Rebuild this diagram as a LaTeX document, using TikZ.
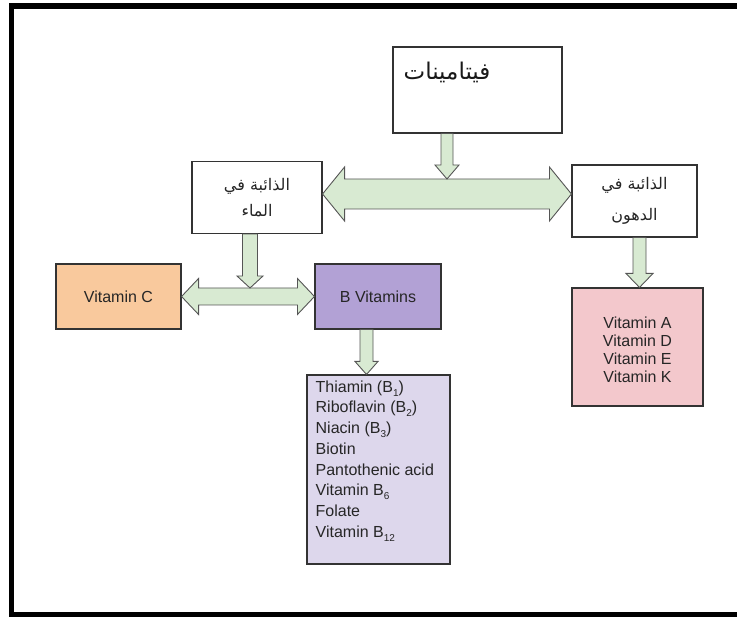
\documentclass[tikz,border=0pt]{standalone}
\usepackage{fontspec}
\setmainfont{Liberation Sans}
\newfontfamily\arabicfont[Script=Arabic]{DejaVu Sans}
\TeXXeTstate=1
\usetikzlibrary{calc}
\definecolor{peach}{HTML}{F9C99D}
\definecolor{bpurple}{HTML}{B2A1D5}
\definecolor{lav}{HTML}{DDD7EC}
\definecolor{pinkbox}{HTML}{F3C8CC}
\definecolor{arrfill}{HTML}{D8EAD2}
\definecolor{arrdraw}{HTML}{555555}
\definecolor{boxdraw}{HTML}{333333}
\newcommand\lowsub[1]{\raisebox{-4pt}{\fontsize{10}{10}\selectfont #1}}
\tikzset{
  box/.style={draw=boxdraw, line width=1.1pt, inner sep=0pt, align=center, text=black!85},
  blockarrow/.style={draw=arrdraw, fill=arrfill, line width=0.9pt, line join=miter},
  latin/.style={font=\fontsize{16}{18}\selectfont},
  arab/.style={font=\arabicfont\fontsize{16}{26}\selectfont},
}
% vertical down block arrow: from, tip, shaft half, head half, head length
\newcommand\downblkarrow[5]{%
  \draw[blockarrow] let \p1=(#1), \p2=(#2) in
    (\x2-#3pt,\y1) -- (\x2-#3pt,\y2+#5pt) -- (\x2-#4pt,\y2+#5pt) -- (\x2,\y2)
    -- (\x2+#4pt,\y2+#5pt) -- (\x2+#3pt,\y2+#5pt) -- (\x2+#3pt,\y1) -- cycle;}
% horizontal double block arrow: left tip, right tip, shaft half, head half, head length
\newcommand\dblblkarrow[5]{%
  \draw[blockarrow] let \p1=(#1), \p2=(#2) in
    (\x1,\y1) -- (\x1+#5pt,\y1+#4pt) -- (\x1+#5pt,\y1+#3pt) -- (\x2-#5pt,\y1+#3pt)
    -- (\x2-#5pt,\y1+#4pt) -- (\x2,\y1) -- (\x2-#5pt,\y1-#4pt) -- (\x2-#5pt,\y1-#3pt)
    -- (\x1+#5pt,\y1-#3pt) -- (\x1+#5pt,\y1-#4pt) -- cycle;}
\begin{document}
\begin{tikzpicture}[x=1pt,y=-1pt]
\useasboundingbox (0,0) rectangle (737,617);
\begin{scope}
\clip (0,0) rectangle (737,617);
\draw[line width=5.5pt] (11.5,6) rectangle (760,614.5);
\end{scope}
% boxes
\node[box, minimum width=169, minimum height=86, fill=white] (top) at (477.5,90) {};
\node[font=\arabicfont\fontsize{23}{26}\selectfont, inner sep=0pt, text=black!90] (toptext) at (447,72) {\beginR فيتامينات\endR};
\node[box, arab, minimum width=130, minimum height=72, fill=white] (water) at (257,197.5)
  {\beginR الذائبة في\endR\\\beginR الماء\endR};
\node[box, arab, minimum width=125, minimum height=72, fill=white, font=\arabicfont\fontsize{16}{31}\selectfont] (fat) at (634.5,201)
  {\beginR الذائبة في\endR\\\beginR الدهون\endR};
\node[box, latin, minimum width=125, minimum height=65, fill=peach] (vitc) at (118.5,296.5) {Vitamin C};
\node[box, latin, minimum width=126, minimum height=65, fill=bpurple] (bvit) at (378,296.5) {B Vitamins};
\node[box, minimum width=143, minimum height=189, fill=lav] (blist) at (378.5,469.5) {};
\node[anchor=north west, align=left, inner sep=0pt, text=black!85, font=\fontsize{16}{20.7}\selectfont] (blisttext) at ($(blist.north west)+(9,6)$)
  {Thiamin (B\lowsub{1})\\Riboflavin (B\lowsub{2})\\Niacin (B\lowsub{3})\\Biotin\\Pantothenic acid\\Vitamin B\lowsub{6}\\Folate\\Vitamin B\lowsub{12}};
\node[box, minimum width=131, minimum height=118, fill=pinkbox, font=\fontsize{16}{18}\selectfont] (fatlist) at (637.5,347)
  {\rule{0pt}{17pt}Vitamin A\\Vitamin D\\Vitamin E\\Vitamin K};
% connectors
\coordinate (d1L) at ($(water.east)+(0,-3.5)$);
\coordinate (d1R) at (fat.west |- d1L);
\coordinate (d1M) at ($(d1L)!0.5!(d1R)$);
\coordinate (a1t) at ($(d1M)+(0,-15)$);
\coordinate (a1s) at (top.south -| a1t);
\dblblkarrow{d1L}{d1R}{15}{27}{22}
\downblkarrow{a1s}{a1t}{6}{12}{14}
\coordinate (d2L) at (vitc.east);
\coordinate (d2R) at (bvit.west);
\coordinate (d2M) at ($(d2L)!0.5!(d2R)$);
\coordinate (a3t) at ($(d2M)+(2,-8.5)$);
\coordinate (a3s) at (water.south -| a3t);
\dblblkarrow{d2L}{d2R}{8.5}{18}{17}
\downblkarrow{a3s}{a3t}{7.5}{13}{12}
\coordinate (a5s) at ($(bvit.south)+(-11.5,0)$);
\coordinate (a5t) at (a5s |- blist.north);
\downblkarrow{a5s}{a5t}{6.5}{11.5}{13}
\coordinate (a6s) at ($(fat.south)+(5,0)$);
\coordinate (a6t) at (a6s |- fatlist.north);
\downblkarrow{a6s}{a6t}{6.5}{13.5}{14}
\end{tikzpicture}
\end{document}
